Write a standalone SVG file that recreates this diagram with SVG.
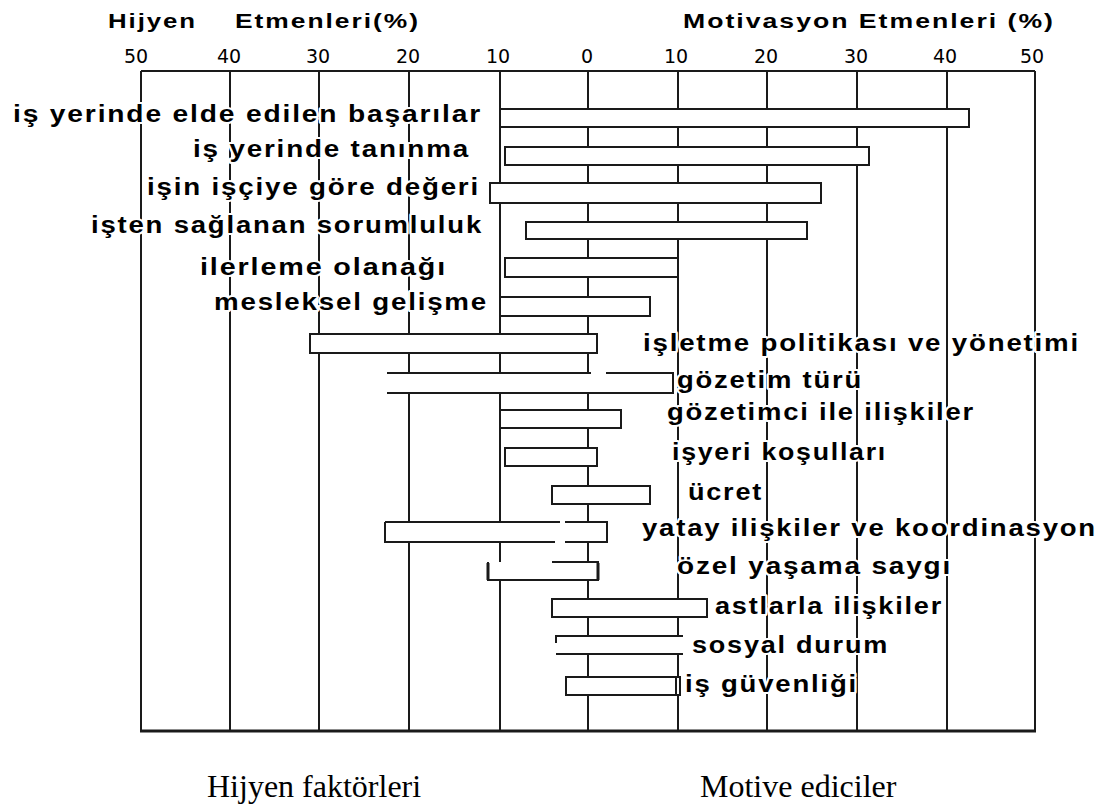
<svg xmlns="http://www.w3.org/2000/svg" width="1106" height="805" viewBox="0 0 1106 805">
<style>
.grid{stroke:#1a1a1a;stroke-width:2;fill:none}
.bar{fill:#fff;stroke:#1a1a1a;stroke-width:2}
.fill{fill:#fff;stroke:none}
.edge{fill:none;stroke:#1a1a1a;stroke-width:2}
.lbl{font-family:"Liberation Sans",Arial,sans-serif;font-weight:bold;font-size:23px;letter-spacing:1.5px;fill:#000;stroke:#fff;stroke-width:4;stroke-linejoin:round;paint-order:stroke}
.hdr{font-family:"Liberation Sans",Arial,sans-serif;font-weight:bold;font-size:20px;letter-spacing:1.5px;fill:#000}
.tick{font-family:"DejaVu Sans",Verdana,sans-serif;font-size:19px;fill:#000;text-anchor:middle}
.cap{font-family:"Liberation Serif","Times New Roman",serif;font-size:32px;fill:#000}
</style>
<rect width="1106" height="805" fill="#fff"/>
<g id="headers">
<text class="hdr" x="108" y="28" textLength="89" lengthAdjust="spacingAndGlyphs">Hijyen</text>
<text class="hdr" x="235" y="28" textLength="185" lengthAdjust="spacingAndGlyphs">Etmenleri(%)</text>
<text class="hdr" x="683" y="28" textLength="372" lengthAdjust="spacingAndGlyphs">Motivasyon Etmenleri (%)</text>
</g>
<g id="ticks">
<text class="tick" x="136" y="63">50</text>
<text class="tick" x="229" y="63">40</text>
<text class="tick" x="318" y="63">30</text>
<text class="tick" x="408" y="63">20</text>
<text class="tick" x="498" y="63">10</text>
<text class="tick" x="587" y="63">0</text>
<text class="tick" x="676" y="63">10</text>
<text class="tick" x="766" y="63">20</text>
<text class="tick" x="856" y="63">30</text>
<text class="tick" x="945" y="63">40</text>
<text class="tick" x="1032" y="63">50</text>
</g>
<g id="connectors">
<path class="grid" d="M141 71H1035M141 71V731M230 71V731M319 71V731M409 71V731M500 71V731M588 71V731M678 71V731M767 71V731M857 71V731M947 71V731M1035 71V731"/>
<path class="grid" d="M140 731H1036" style="stroke-width:3"/>
</g>
<g id="r1"><rect class="bar" x="500" y="109" width="469" height="18"/><text class="lbl" x="13" y="122" textLength="469" lengthAdjust="spacingAndGlyphs">iş yerinde elde edilen başarılar</text></g>
<g id="r2"><rect class="bar" x="505" y="147" width="364" height="18"/><text class="lbl" x="193" y="157" textLength="277" lengthAdjust="spacingAndGlyphs">iş yerinde tanınma</text></g>
<g id="r3"><rect class="bar" x="490" y="183" width="331" height="20"/><text class="lbl" x="147" y="195" textLength="333" lengthAdjust="spacingAndGlyphs">işin işçiye göre değeri</text></g>
<g id="r4"><rect class="bar" x="526" y="222" width="281" height="17"/><text class="lbl" x="91" y="233" textLength="392" lengthAdjust="spacingAndGlyphs">işten sağlanan sorumluluk</text></g>
<g id="r5"><rect class="bar" x="505" y="258" width="173" height="19"/><text class="lbl" x="200" y="275" textLength="247" lengthAdjust="spacingAndGlyphs">ilerleme olanağı</text></g>
<g id="r6"><rect class="bar" x="500" y="297" width="150" height="19"/><text class="lbl" x="214" y="310" textLength="274" lengthAdjust="spacingAndGlyphs">mesleksel gelişme</text></g>
<g id="r7"><rect class="bar" x="310" y="334" width="287" height="19"/><text class="lbl" x="643" y="351" textLength="437" lengthAdjust="spacingAndGlyphs">işletme politikası ve yönetimi</text></g>
<g id="r8"><rect class="fill" x="387" y="372" width="286" height="21"/><path class="edge" d="M387 373H591M606 373H673V393H387"/><text class="lbl" x="677" y="388" textLength="186" lengthAdjust="spacingAndGlyphs">gözetim türü</text></g>
<g id="r9"><rect class="bar" x="500" y="410" width="121" height="18"/><text class="lbl" x="667" y="420" textLength="308" lengthAdjust="spacingAndGlyphs">gözetimci ile ilişkiler</text></g>
<g id="r10"><rect class="bar" x="505" y="448" width="92" height="18"/><text class="lbl" x="672" y="460" textLength="215" lengthAdjust="spacingAndGlyphs">işyeri koşulları</text></g>
<g id="r11"><rect class="bar" x="552" y="486" width="98" height="18"/><text class="lbl" x="688" y="500" textLength="75" lengthAdjust="spacingAndGlyphs">ücret</text></g>
<g id="r12"><rect class="fill" x="385" y="522" width="222" height="20"/><path class="edge" d="M385 522H560M565 522H607V542H565M555 542H385V522"/><text class="lbl" x="642" y="536" textLength="455" lengthAdjust="spacingAndGlyphs">yatay ilişkiler ve koordinasyon</text></g>
<g id="r13"><rect class="fill" x="488" y="562" width="110" height="18"/><path class="edge" d="M552 562H598V580H488V562"/><path class="edge" d="M488 563V580M598 563V580" style="stroke-width:3"/><text class="lbl" x="677" y="574" textLength="275" lengthAdjust="spacingAndGlyphs">özel yaşama saygı</text></g>
<g id="r14"><rect class="bar" x="552" y="599" width="155" height="18"/><text class="lbl" x="715" y="614" textLength="228" lengthAdjust="spacingAndGlyphs">astlarla ilişkiler</text></g>
<g id="r15"><rect class="fill" x="556" y="636" width="127" height="18"/><path class="edge" d="M556 643V636H683M556 654H683"/><text class="lbl" x="692" y="653" textLength="197" lengthAdjust="spacingAndGlyphs">sosyal durum</text></g>
<g id="r16"><rect class="bar" x="566" y="677" width="114" height="18"/><path class="edge" d="M676 677V695"/><text class="lbl" x="685" y="692" textLength="173" lengthAdjust="spacingAndGlyphs">iş güvenliği</text></g>
<g id="captions">
<text class="cap" x="207" y="797">Hijyen faktörleri</text>
<text class="cap" x="700" y="797">Motive ediciler</text>
</g>
</svg>
